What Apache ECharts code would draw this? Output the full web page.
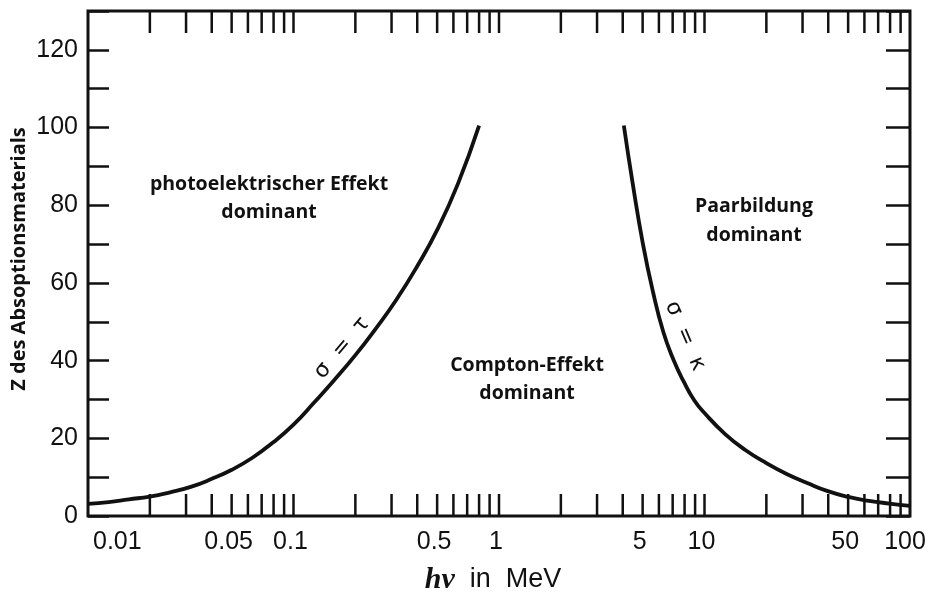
<!DOCTYPE html>
<html><head><meta charset="utf-8">
<script src="https://cdn.jsdelivr.net/npm/echarts@6.0.0/dist/echarts.min.js"></script>
<style>html,body{margin:0;padding:0;background:#fff}#c{width:933px;height:595px}</style>
</head><body><div id="c"></div>
<script>
// sigma = tau boundary (photoelectric = Compton)
const photoComptonE = [0.01, 0.0126, 0.0158, 0.020, 0.0251, 0.0316, 0.0398, 0.0501, 0.0631, 0.0794, 0.1, 0.126, 0.158, 0.2, 0.251, 0.316, 0.398, 0.501, 0.631, 0.80];
const photoComptonZ = [3.1, 3.6, 4.3, 5.0, 6.1, 7.5, 9.5, 11.9, 15.0, 18.9, 23.5, 29.2, 35.0, 41.4, 48.2, 55.6, 64.1, 73.7, 85.5, 100.5];
// sigma = kappa boundary (Compton = pair production)
const comptonPairE = [4.05, 4.47, 5.01, 5.62, 6.31, 7.08, 7.94, 8.91, 10, 12.6, 15.8, 20.0, 25.1, 31.6, 39.8, 50.1, 63.1, 79.4, 100];
const comptonPairZ = [100.5, 85.7, 70.2, 57.6, 47.3, 40.1, 34.5, 29.8, 26.5, 21.1, 17.0, 13.6, 10.8, 8.5, 6.4, 4.9, 3.9, 3.2, 2.6];
// x-axis tick values (log scale)
const xTickValues = [0.02,0.03,0.04,0.05,0.06,0.07,0.08,0.09,0.1,0.2,0.3,0.4,0.5,0.6,0.7,0.8,0.9,1,2,3,4,5,6,7,8,9,10,20,30,40,50,60,70,80,90];
const xLabelValues = [0.01, 0.05, 0.1, 0.5, 1, 5, 10, 50, 100];
const xLabelTexts = ['0.01', '0.05', '0.1', '0.5', '1', '5', '10', '50', '100'];
const yMin = 0, yMax = 130, yStep = 10;

const INK = '#111';
const chart = echarts.init(document.getElementById('c'), null, {renderer: 'canvas'});

const option = {
  backgroundColor: '#fff',
  animation: false,
  grid: {left: 88, right: 23, top: 11, bottom: 79, show: true, borderColor: INK, borderWidth: 3, backgroundColor: 'transparent'},
  xAxis: {
    type: 'log', logBase: 10, min: 0.01, max: 100,
    axisLine: {show: false}, axisTick: {show: false}, axisLabel: {show: false}, splitLine: {show: false}, minorTick: {show: false}
  },
  yAxis: [{
    type: 'value', min: yMin, max: yMax, interval: yStep, position: 'left',
    axisLine: {show: false},
    axisTick: {show: true, inside: true, length: 21, lineStyle: {color: INK, width: 2.5}},
    axisLabel: {show: true, margin: 10, color: INK, fontSize: 25, fontFamily: 'Liberation Sans, Arial, sans-serif',
      formatter: v => (v % 20 === 0 && v <= 120) ? String(v) : ''},
    splitLine: {show: false}
  }, {
    type: 'value', min: yMin, max: yMax, interval: yStep, position: 'right',
    axisLine: {show: false},
    axisTick: {show: true, inside: true, length: 24, lineStyle: {color: INK, width: 2.5}},
    axisLabel: {show: false}, splitLine: {show: false}
  }],
  series: [
    {
      type: 'line', name: 'sigma=tau', smooth: 0.5, showSymbol: false, silent: true,
      data: photoComptonE.map((e, i) => [e, photoComptonZ[i]]),
      lineStyle: {color: INK, width: 3.8}
    },
    {
      type: 'line', name: 'sigma=kappa', smooth: 0.5, showSymbol: false, silent: true,
      data: comptonPairE.map((e, i) => [e, comptonPairZ[i]]),
      lineStyle: {color: INK, width: 3.8}
    },
    {
      type: 'custom', silent: true, clip: false,
      data: xTickValues.map(v => [v, yMin]),
      renderItem(params, api) {
        const v = api.value(0);
        const pb = api.coord([v, yMin]);
        const pt = api.coord([v, yMax]);
        return {type: 'group', children: [
          {type: 'line', shape: {x1: pb[0], y1: pb[1], x2: pb[0], y2: pb[1] - 22}, style: {stroke: INK, lineWidth: 2.5}},
          {type: 'line', shape: {x1: pt[0], y1: pt[1], x2: pt[0], y2: pt[1] + 22}, style: {stroke: INK, lineWidth: 2.5}}
        ]};
      }
    },
    {
      type: 'custom', silent: true, clip: false,
      data: xLabelValues.map(v => [v, yMin]),
      renderItem(params, api) {
        const v = api.value(0);
        const p = api.coord([v, yMin]);
        const i = params.dataIndex;
        const first = i === 0;
        return {type: 'text', x: p[0] + (first ? 5 : (i === xLabelValues.length - 1 ? -5 : -3)), y: p[1] + 14,
          style: {text: xLabelTexts[i], fill: INK, fontSize: 25, fontFamily: 'Liberation Sans, Arial, sans-serif',
            align: first ? 'left' : 'center', textAlign: first ? 'left' : 'center', verticalAlign: 'top', textVerticalAlign: 'top'}};
      }
    }
  ],
  graphic: [
    {type: 'text', x: 19, y: 259, rotation: Math.PI / 2,
      style: {text: 'Z des Absoptionsmaterials', fill: INK, font: 'bold 20px "Open Sans", sans-serif', align: 'center', verticalAlign: 'middle'}},
    {type: 'text', x: 493, y: 580,
      style: {text: '{a|hν}{b|  in  MeV}', align: 'center', verticalAlign: 'middle',
        rich: {a: {fontFamily: 'Liberation Serif, serif', fontStyle: 'italic', fontWeight: 'bold', fontSize: 30, fill: INK},
               b: {fontFamily: 'Liberation Sans, Arial, sans-serif', fontSize: 27, fill: INK}}}},
    {type: 'text', x: 269, y: 198,
      style: {text: 'photoelektrischer Effekt\ndominant', fill: INK, font: 'bold 19.5px "Open Sans", sans-serif', align: 'center', verticalAlign: 'middle', lineHeight: 28}},
    {type: 'text', x: 754, y: 221,
      style: {text: 'Paarbildung\ndominant', fill: INK, font: 'bold 19.5px "Open Sans", sans-serif', align: 'center', verticalAlign: 'middle', lineHeight: 29}},
    {type: 'text', x: 527, y: 379,
      style: {text: 'Compton-Effekt\ndominant', fill: INK, font: 'bold 19.5px "Open Sans", sans-serif', align: 'center', verticalAlign: 'middle', lineHeight: 28}},
    {type: 'text', x: 342, y: 348, rotation: 50 * Math.PI / 180,
      style: {text: 'σ  =  τ', fill: INK, font: '22px "DejaVu Sans", sans-serif', align: 'center', verticalAlign: 'middle'}},
    {type: 'text', x: 685, y: 336, rotation: -67 * Math.PI / 180,
      style: {text: 'σ  =  κ', fill: INK, font: '22px "DejaVu Sans", sans-serif', align: 'center', verticalAlign: 'middle'}}
  ]
};
chart.setOption(option);
</script>
</body></html>
